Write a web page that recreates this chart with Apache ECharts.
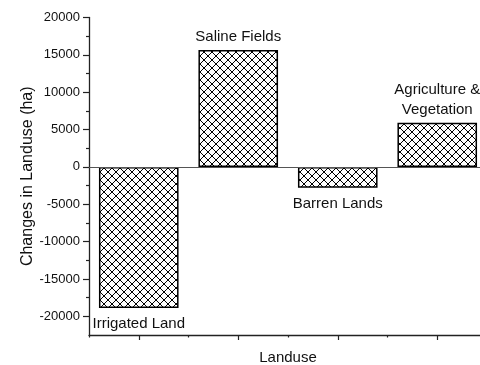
<!DOCTYPE html>
<html>
<head>
<meta charset="utf-8">
<script src="https://cdn.jsdelivr.net/npm/echarts@6/dist/echarts.min.js"></script>
<style>
html,body{margin:0;padding:0;background:#fff;}
#chart{width:480px;height:365px;}
</style>
</head>
<body>
<div id="chart"></div>
<script>
// Data
const categories = ['Irrigated Land', 'Saline Fields', 'Barren Lands', 'Agriculture &\nVegetation'];
const changes = [-18900, 15650, -2800, 5900];
const yMajorTicks = [-20000, -15000, -10000, -5000, 0, 5000, 10000, 15000, 20000];
const yMinorTicks = [-17500, -12500, -7500, -2500, 2500, 7500, 12500, 17500];
const yMin = -22500;
const yMax = 20000;

// hatch pattern
function makePattern() {
  const c = document.createElement('canvas');
  c.width = 8; c.height = 8;
  const g = c.getContext('2d');
  g.fillStyle = '#fff';
  g.fillRect(0, 0, 8, 8);
  g.strokeStyle = '#000';
  g.lineWidth = 1;
  g.beginPath();
  g.moveTo(0, 0); g.lineTo(8, 8);
  g.moveTo(8, 0); g.lineTo(0, 8);
  g.stroke();
  return c;
}
const pattern = { image: makePattern(), repeat: 'repeat' };

const font = 'Liberation Sans';
const chart = echarts.init(document.getElementById('chart'), null, { renderer: 'canvas' });

const seriesData = changes.map((v, i) => ({
  value: v,
  label: {
    show: true,
    position: v >= 0 ? 'top' : 'bottom',
    distance: v >= 0 ? 3 : 6,
    formatter: categories[i],
    fontFamily: font,
    fontSize: 15,
    lineHeight: 20,
    color: '#111'
  }
}));

chart.setOption({
  animation: false,
  backgroundColor: '#fff',
  grid: { left: 89, right: -7, top: 17.5, bottom: 30, containLabel: false, outerBoundsMode: 'none' },
  xAxis: [
    {
      type: 'category',
      data: categories,
      position: 'bottom',
      name: 'Landuse',
      nameLocation: 'middle',
      nameGap: 15,
      nameTextStyle: { fontFamily: font, fontSize: 15, color: '#111' },
      axisLine: { show: true, onZero: false, lineStyle: { color: '#222', width: 1.3 } },
      axisTick: { show: true, alignWithLabel: true, length: 5, lineStyle: { color: '#222', width: 1.2 } },
      axisLabel: { show: false },
      splitLine: { show: false }
    },
    {
      type: 'category',
      data: categories,
      position: 'bottom',
      axisLine: { show: false, onZero: false },
      axisTick: { show: true, alignWithLabel: false, length: 2.5, lineStyle: { color: '#222', width: 1.2 } },
      axisLabel: { show: false },
      splitLine: { show: false }
    }
  ],
  yAxis: [
    {
      type: 'value',
      min: yMin,
      max: yMax,
      position: 'left',
      name: 'Changes in Landuse (ha)',
      nameLocation: 'middle',
      nameGap: 53,
      nameMoveOverlap: false,
      nameTextStyle: { fontFamily: font, fontSize: 16, color: '#111' },
      axisLine: { show: true, onZero: false, lineStyle: { color: '#222', width: 1.3 } },
      axisTick: { show: true, customValues: yMajorTicks, length: 6, lineStyle: { color: '#222', width: 1.2 } },
      axisLabel: { customValues: yMajorTicks, margin: 9, fontFamily: font, fontSize: 13, color: '#111', formatter: v => String(v) },
      splitLine: { show: false }
    },
    {
      type: 'value',
      min: yMin,
      max: yMax,
      position: 'left',
      axisLine: { show: false, onZero: false },
      axisTick: { show: true, customValues: yMinorTicks, length: 3, lineStyle: { color: '#222', width: 1.2 } },
      axisLabel: { show: false },
      splitLine: { show: false }
    }
  ],
  series: [
    {
      type: 'bar',
      xAxisIndex: 0,
      yAxisIndex: 0,
      data: seriesData,
      barWidth: '80%',
      z: 3,
      itemStyle: { color: pattern, borderColor: '#000', borderWidth: 1.5 },
      markLine: {
        silent: true,
        symbol: ['none', 'none'],
        label: { show: false },
        lineStyle: { color: '#555', width: 1.2, type: 'solid' },
        data: [{ yAxis: 0 }]
      }
    }
  ]
});
</script>
</body>
</html>
